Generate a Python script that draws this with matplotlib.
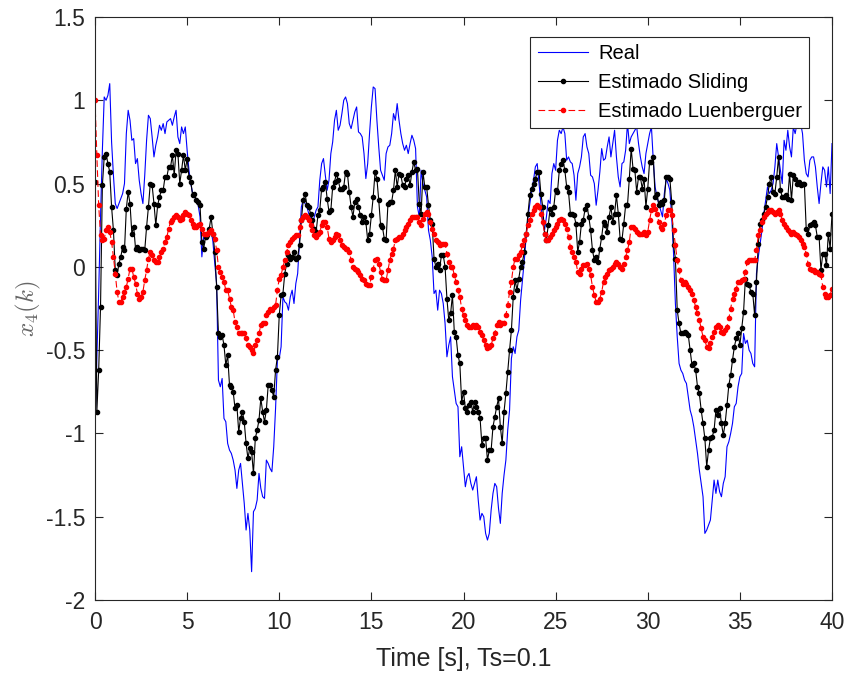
import numpy as np
import matplotlib
matplotlib.use("Agg")
import matplotlib.pyplot as plt

Ts = 0.1
n_samples = 401

real = [
 -0.99, -0.55, -0.15, 0.30, 0.70, 1.02, 1.00, 1.03, 1.10, 0.75,
 0.55, 0.38, 0.35, 0.38, 0.41, 0.44, 0.50, 0.80, 0.94, 0.88,
 0.76, 0.77, 0.62, 0.65, 0.52, 0.44, 0.38, 0.55, 0.76, 0.91,
 0.89, 0.78, 0.66, 0.73, 0.78, 0.85, 0.82, 0.86, 0.80, 0.87,
 0.88, 0.89, 0.85, 0.90, 0.94, 0.78, 0.74, 0.84, 0.80, 0.84,
 0.70, 0.58, 0.50, 0.44, 0.42, 0.40, 0.37, 0.30, 0.06, 0.18,
 0.17, 0.20, 0.21, 0.22, 0.15, 0.02, -0.10, -0.68, -0.72, -0.67,
 -0.91, -0.93, -1.06, -1.10, -1.12, -1.16, -1.22, -1.33, -1.22, -1.18,
 -1.30, -1.42, -1.58, -1.48, -1.58, -1.83, -1.47, -1.45, -1.40, -1.24,
 -1.33, -1.38, -1.39, -1.16, -1.18, -1.21, -1.23, -1.08, -0.85, -0.56,
 -0.55, -0.48, -0.18, -0.21, -0.22, -0.26, -0.18, -0.14, -0.22, -0.10,
 -0.04, 0.16, 0.36, 0.40, 0.38, 0.36, 0.32, 0.30, 0.24, 0.30,
 0.34, 0.36, 0.52, 0.62, 0.65, 0.55, 0.46, 0.52, 0.68, 0.75,
 0.88, 0.94, 0.82, 0.85, 0.92, 1.00, 1.02, 0.98, 0.86, 0.83,
 0.88, 0.93, 0.96, 0.81, 0.80, 0.78, 0.68, 0.53, 0.62, 0.80,
 0.96, 1.08, 1.07, 0.88, 0.72, 0.58, 0.55, 0.52, 0.68, 0.72,
 0.73, 0.80, 0.92, 0.88, 0.98, 0.88, 0.80, 0.74, 0.70, 0.73,
 0.68, 0.74, 0.79, 0.76, 0.71, 0.36, 0.30, 0.58, 0.50, 0.46,
 0.42, 0.22, 0.16, 0.06, -0.16, -0.14, -0.26, -0.14, -0.16, -0.22,
 -0.34, -0.54, -0.47, -0.42, -0.66, -0.74, -0.82, -0.84, -1.14, -1.08,
 -1.20, -1.32, -1.26, -1.24, -1.30, -1.34, -1.30, -1.26, -1.40, -1.52,
 -1.48, -1.50, -1.60, -1.64, -1.60, -1.46, -1.36, -1.30, -1.32, -1.45,
 -1.54, -1.36, -1.25, -1.16, -0.98, -0.86, -0.55, -0.48, -0.52, -0.42,
 -0.38, -0.20, -0.08, 0.04, 0.18, 0.30, 0.38, 0.46, 0.52, 0.60,
 0.62, 0.50, 0.38, 0.26, 0.22, 0.30, 0.40, 0.38, 0.56, 0.62,
 0.58, 0.76, 0.82, 0.80, 0.84, 0.80, 0.64, 0.66, 0.63, 0.62,
 0.55, 0.40, 0.56, 0.60, 0.66, 0.78, 0.80, 0.72, 0.68, 0.55,
 0.54, 0.50, 0.37, 0.46, 0.57, 0.71, 0.64, 0.65, 0.72, 0.78,
 0.66, 0.74, 0.82, 0.66, 0.54, 0.48, 0.62, 0.63, 0.70, 0.86,
 0.74, 0.78, 0.80, 0.82, 0.84, 0.74, 0.66, 0.60, 0.56, 0.68,
 0.74, 0.80, 0.84, 0.64, 0.48, 0.42, 0.38, 0.34, 0.30, 0.44,
 0.53, 0.50, 0.46, 0.30, 0.08, -0.22, -0.42, -0.58, -0.62, -0.64,
 -0.68, -0.70, -0.78, -0.86, -0.90, -0.96, -1.04, -1.12, -1.22, -1.30,
 -1.38, -1.60, -1.58, -1.55, -1.52, -1.40, -1.28, -1.36, -1.28, -1.35,
 -1.38, -1.30, -1.26, -1.08, -1.05, -1.00, -0.94, -0.84, -0.82, -0.72,
 -0.66, -0.64, -0.40, -0.46, -0.44, -0.50, -0.52, -0.58, -0.60, -0.04,
 0.06, 0.14, 0.22, 0.32, 0.40, 0.48, 0.44, 0.46, 0.50, 0.60,
 0.74, 0.66, 0.58, 0.50, 0.76, 0.70, 0.82, 0.72, 0.66, 0.84,
 0.80, 0.86, 0.84, 0.86, 0.80, 0.64, 0.56, 0.54, 0.64, 0.66,
 0.66, 0.60, 0.48, 0.38, 0.50, 0.60, 0.58, 0.48, 0.60, 0.44,
 0.74,
]

sliding = [
 0.51, -0.87, -0.62, -0.24, 0.49, 0.66, 0.68, 0.62, 0.57, 0.36,
 0.22, -0.02, -0.05, 0.02, 0.06, 0.12, 0.10, 0.35, 0.45, 0.38,
 0.20, 0.24, 0.11, 0.12, 0.10, 0.11, 0.11, 0.10, 0.24, 0.36,
 0.50, 0.49, 0.38, 0.25, 0.37, 0.42, 0.46, 0.46, 0.54, 0.54,
 0.60, 0.60, 0.67, 0.55, 0.70, 0.68, 0.50, 0.58, 0.67, 0.58,
 0.65, 0.54, 0.51, 0.43, 0.44, 0.40, 0.39, 0.37, 0.15, 0.11,
 0.18, 0.19, 0.23, 0.30, 0.20, 0.09, -0.12, -0.40, -0.42, -0.41,
 -0.47, -0.59, -0.53, -0.71, -0.72, -0.75, -0.85, -0.83, -0.99, -0.91,
 -0.87, -0.93, -1.06, -1.15, -1.09, -1.11, -1.24, -1.03, -0.98, -0.92,
 -0.79, -0.87, -0.93, -0.86, -0.71, -0.71, -0.74, -0.78, -0.62, -0.54,
 -0.29, -0.17, -0.16, -0.04, 0.02, 0.07, 0.05, 0.06, 0.09, 0.05,
 0.06, 0.13, 0.28, 0.40, 0.44, 0.37, 0.36, 0.32, 0.28, 0.23,
 0.21, 0.31, 0.34, 0.47, 0.48, 0.51, 0.41, 0.33, 0.34, 0.48,
 0.51, 0.56, 0.52, 0.47, 0.47, 0.48, 0.57, 0.56, 0.45, 0.36,
 0.30, 0.39, 0.41, 0.36, 0.31, 0.27, 0.30, 0.27, 0.16, 0.20,
 0.31, 0.42, 0.57, 0.53, 0.40, 0.25, 0.24, 0.17, 0.16, 0.38,
 0.39, 0.39, 0.46, 0.58, 0.48, 0.56, 0.55, 0.49, 0.48, 0.53,
 0.55, 0.49, 0.57, 0.63, 0.58, 0.59, 0.38, 0.32, 0.57, 0.48,
 0.48, 0.37, 0.28, 0.26, 0.05, 0.00, 0.02, -0.02, 0.07, 0.07,
 0.00, -0.19, -0.32, -0.28, -0.17, -0.39, -0.42, -0.53, -0.58, -0.81,
 -0.75, -0.85, -0.87, -0.83, -0.81, -0.87, -0.81, -0.84, -0.87, -0.91,
 -1.07, -1.03, -1.03, -1.16, -1.10, -1.10, -0.96, -0.90, -0.84, -0.79,
 -0.96, -1.06, -0.87, -0.76, -0.63, -0.50, -0.38, -0.18, -0.08, -0.14,
 -0.07, 0.00, 0.03, 0.09, 0.20, 0.32, 0.43, 0.47, 0.50, 0.53,
 0.57, 0.57, 0.44, 0.36, 0.20, 0.16, 0.25, 0.35, 0.32, 0.36,
 0.46, 0.45, 0.58, 0.62, 0.64, 0.58, 0.48, 0.45, 0.32, 0.32,
 0.31, 0.26, 0.09, 0.15, 0.26, 0.28, 0.35, 0.37, 0.30, 0.22,
 0.10, 0.04, 0.06, 0.03, 0.11, 0.18, 0.27, 0.25, 0.21, 0.30,
 0.36, 0.27, 0.32, 0.43, 0.32, 0.17, 0.16, 0.26, 0.37, 0.37,
 0.53, 0.71, 0.59, 0.58, 0.45, 0.54, 0.54, 0.47, 0.53, 0.36,
 0.47, 0.63, 0.63, 0.66, 0.42, 0.44, 0.37, 0.39, 0.38, 0.40,
 0.54, 0.54, 0.53, 0.39, 0.13, 0.05, -0.26, -0.34, -0.40, -0.40,
 -0.39, -0.40, -0.41, -0.50, -0.59, -0.58, -0.62, -0.72, -0.76, -0.86,
 -0.94, -1.03, -1.20, -1.10, -1.03, -1.02, -0.98, -0.86, -0.89, -0.85,
 -0.94, -1.01, -0.94, -0.83, -0.71, -0.65, -0.56, -0.48, -0.43, -0.40,
 -0.47, -0.37, -0.27, -0.07, -0.10, -0.11, -0.15, -0.16, -0.29, -0.09,
 0.14, 0.26, 0.28, 0.32, 0.36, 0.42, 0.50, 0.54, 0.45, 0.44,
 0.54, 0.66, 0.46, 0.42, 0.42, 0.43, 0.41, 0.56, 0.40, 0.55,
 0.53, 0.50, 0.51, 0.49, 0.50, 0.50, 0.23, 0.20, 0.25, 0.26,
 0.27, 0.25, 0.18, 0.18, -0.02, 0.08, 0.08, 0.01, 0.20, 0.11,
 0.32,
]

luenberger = [
 1.00, 0.67, 0.37, 0.19, 0.16, 0.17, 0.22, 0.24, 0.21, 0.15,
 0.06, -0.04, -0.15, -0.21, -0.21, -0.18, -0.15, -0.12, -0.07, -0.01,
 -0.01, -0.06, -0.10, -0.16, -0.19, -0.18, -0.15, -0.08, -0.02, 0.05,
 0.09, 0.07, 0.04, 0.03, 0.03, 0.06, 0.09, 0.11, 0.15, 0.18,
 0.23, 0.27, 0.28, 0.30, 0.31, 0.30, 0.28, 0.29, 0.31, 0.33,
 0.32, 0.31, 0.28, 0.26, 0.24, 0.24, 0.25, 0.26, 0.23, 0.20,
 0.20, 0.20, 0.21, 0.22, 0.20, 0.17, 0.10, 0.00, -0.03, -0.06,
 -0.09, -0.14, -0.14, -0.19, -0.24, -0.26, -0.33, -0.36, -0.40, -0.40,
 -0.40, -0.40, -0.43, -0.47, -0.48, -0.50, -0.52, -0.47, -0.44, -0.40,
 -0.35, -0.34, -0.34, -0.29, -0.27, -0.25, -0.26, -0.24, -0.23, -0.14,
 -0.07, -0.05, 0.00, 0.04, 0.09, 0.13, 0.15, 0.17, 0.18, 0.19,
 0.19, 0.24, 0.28, 0.30, 0.31, 0.30, 0.28, 0.25, 0.22, 0.19,
 0.18, 0.20, 0.21, 0.25, 0.27, 0.27, 0.24, 0.17, 0.15, 0.16,
 0.18, 0.20, 0.19, 0.16, 0.13, 0.12, 0.11, 0.11, 0.09, 0.04,
 0.00, -0.01, -0.02, -0.03, -0.05, -0.07, -0.08, -0.10, -0.11, -0.11,
 -0.06, -0.01, 0.04, 0.05, 0.02, -0.03, -0.07, -0.08, -0.08, -0.02,
 0.04, 0.08, 0.11, 0.16, 0.17, 0.18, 0.18, 0.20, 0.22, 0.24,
 0.26, 0.28, 0.30, 0.30, 0.30, 0.30, 0.27, 0.25, 0.29, 0.32,
 0.33, 0.32, 0.27, 0.23, 0.20, 0.16, 0.15, 0.13, 0.14, 0.14,
 0.14, 0.08, 0.03, 0.00, 0.00, -0.05, -0.09, -0.14, -0.18, -0.25,
 -0.29, -0.32, -0.35, -0.36, -0.36, -0.35, -0.36, -0.35, -0.36, -0.39,
 -0.41, -0.44, -0.47, -0.49, -0.48, -0.47, -0.43, -0.40, -0.35, -0.33,
 -0.35, -0.34, -0.34, -0.29, -0.23, -0.15, -0.09, 0.00, 0.05, 0.05,
 0.07, 0.09, 0.13, 0.16, 0.20, 0.25, 0.28, 0.32, 0.34, 0.36,
 0.37, 0.36, 0.32, 0.27, 0.20, 0.16, 0.16, 0.18, 0.20, 0.22,
 0.24, 0.26, 0.28, 0.29, 0.28, 0.26, 0.23, 0.18, 0.12, 0.09,
 0.06, 0.03, -0.03, -0.04, -0.01, 0.01, 0.01, 0.02, -0.01, -0.05,
 -0.12, -0.17, -0.21, -0.21, -0.19, -0.15, -0.09, -0.06, -0.04, -0.02,
 -0.01, 0.00, 0.02, 0.03, 0.02, 0.00, -0.01, 0.02, 0.06, 0.10,
 0.15, 0.24, 0.24, 0.23, 0.21, 0.20, 0.20, 0.20, 0.21, 0.19,
 0.21, 0.28, 0.34, 0.37, 0.35, 0.32, 0.27, 0.24, 0.23, 0.26,
 0.31, 0.34, 0.34, 0.31, 0.22, 0.13, 0.04, -0.02, -0.08, -0.10,
 -0.09, -0.10, -0.12, -0.14, -0.16, -0.20, -0.24, -0.28, -0.32, -0.37,
 -0.42, -0.44, -0.48, -0.49, -0.46, -0.42, -0.39, -0.36, -0.35, -0.36,
 -0.39, -0.40, -0.38, -0.36, -0.31, -0.25, -0.19, -0.16, -0.13, -0.09,
 -0.09, -0.08, -0.07, -0.03, 0.03, 0.04, 0.04, 0.04, 0.04, 0.10,
 0.19, 0.22, 0.27, 0.30, 0.32, 0.33, 0.34, 0.34, 0.33, 0.32,
 0.33, 0.34, 0.32, 0.28, 0.26, 0.24, 0.22, 0.21, 0.20, 0.21,
 0.20, 0.19, 0.18, 0.16, 0.14, 0.12, 0.08, 0.02, -0.01, -0.02,
 -0.02, -0.03, -0.03, -0.04, -0.05, -0.12, -0.16, -0.18, -0.18, -0.17,
 -0.13,
]

legend_labels = ["Real", "Estimado Sliding", "Estimado Luenberguer"]
x_ticks = [0, 5, 10, 15, 20, 25, 30, 35, 40]
y_ticks = [-2, -1.5, -1, -0.5, 0, 0.5, 1, 1.5]
y_tick_labels = ["-2", "-1.5", "-1", "-0.5", "0", "0.5", "1", "1.5"]
x_label = "Time [s], Ts=0.1"
y_label = r"$x_4(k)$"

t = np.arange(n_samples) * Ts

plt.rcParams['font.family'] = ['Liberation Sans', 'DejaVu Sans']
plt.rcParams['mathtext.fontset'] = 'cm'

fig = plt.figure(figsize=(8.49, 6.77), dpi=100)
ax = fig.add_axes([95/849, 1 - 600/677, (832-95)/849, (600-17)/677])

ax.plot(t, real, color=(0, 0, 1), lw=0.8, label=legend_labels[0])
ax.plot(t, sliding, color='k', lw=0.8, marker='.', ms=6, label=legend_labels[1])
ax.plot(t, luenberger, color=(1, 0, 0), lw=0.8, ls=(0, (6, 3)), marker='.', ms=6,
        label=legend_labels[2])

ax.set_xlim(0, 40)
ax.set_ylim(-2, 1.5)
ax.set_xticks(x_ticks)
ax.set_yticks(y_ticks)
ax.set_yticklabels(y_tick_labels)

axc = (0.15, 0.15, 0.15)
for s in ax.spines.values():
    s.set_color(axc)
    s.set_linewidth(0.8)
ax.tick_params(direction='in', length=6, width=0.8, colors=axc, labelsize=16.5,
               top=True, right=True)
ax.tick_params(axis='x', pad=8)
ax.tick_params(axis='y', pad=7)
for lab in ax.get_xticklabels() + ax.get_yticklabels():
    lab.set_color(axc)

ax.set_xlabel(x_label, fontsize=18, color=axc, labelpad=9)
ax.set_ylabel(y_label, fontsize=18, color=(0.4, 0.4, 0.4), labelpad=2)

leg = ax.legend(loc='upper right', bbox_to_anchor=(809/849, 1 - 37/677),
                bbox_transform=fig.transFigure, fontsize=14.5, frameon=True,
                fancybox=False, edgecolor=axc, framealpha=1, borderpad=0.35,
                labelspacing=0.5, handlelength=2.5, handletextpad=0.5,
                borderaxespad=0)
leg.get_frame().set_linewidth(0.8)

fig.savefig("out.png", dpi=100)
